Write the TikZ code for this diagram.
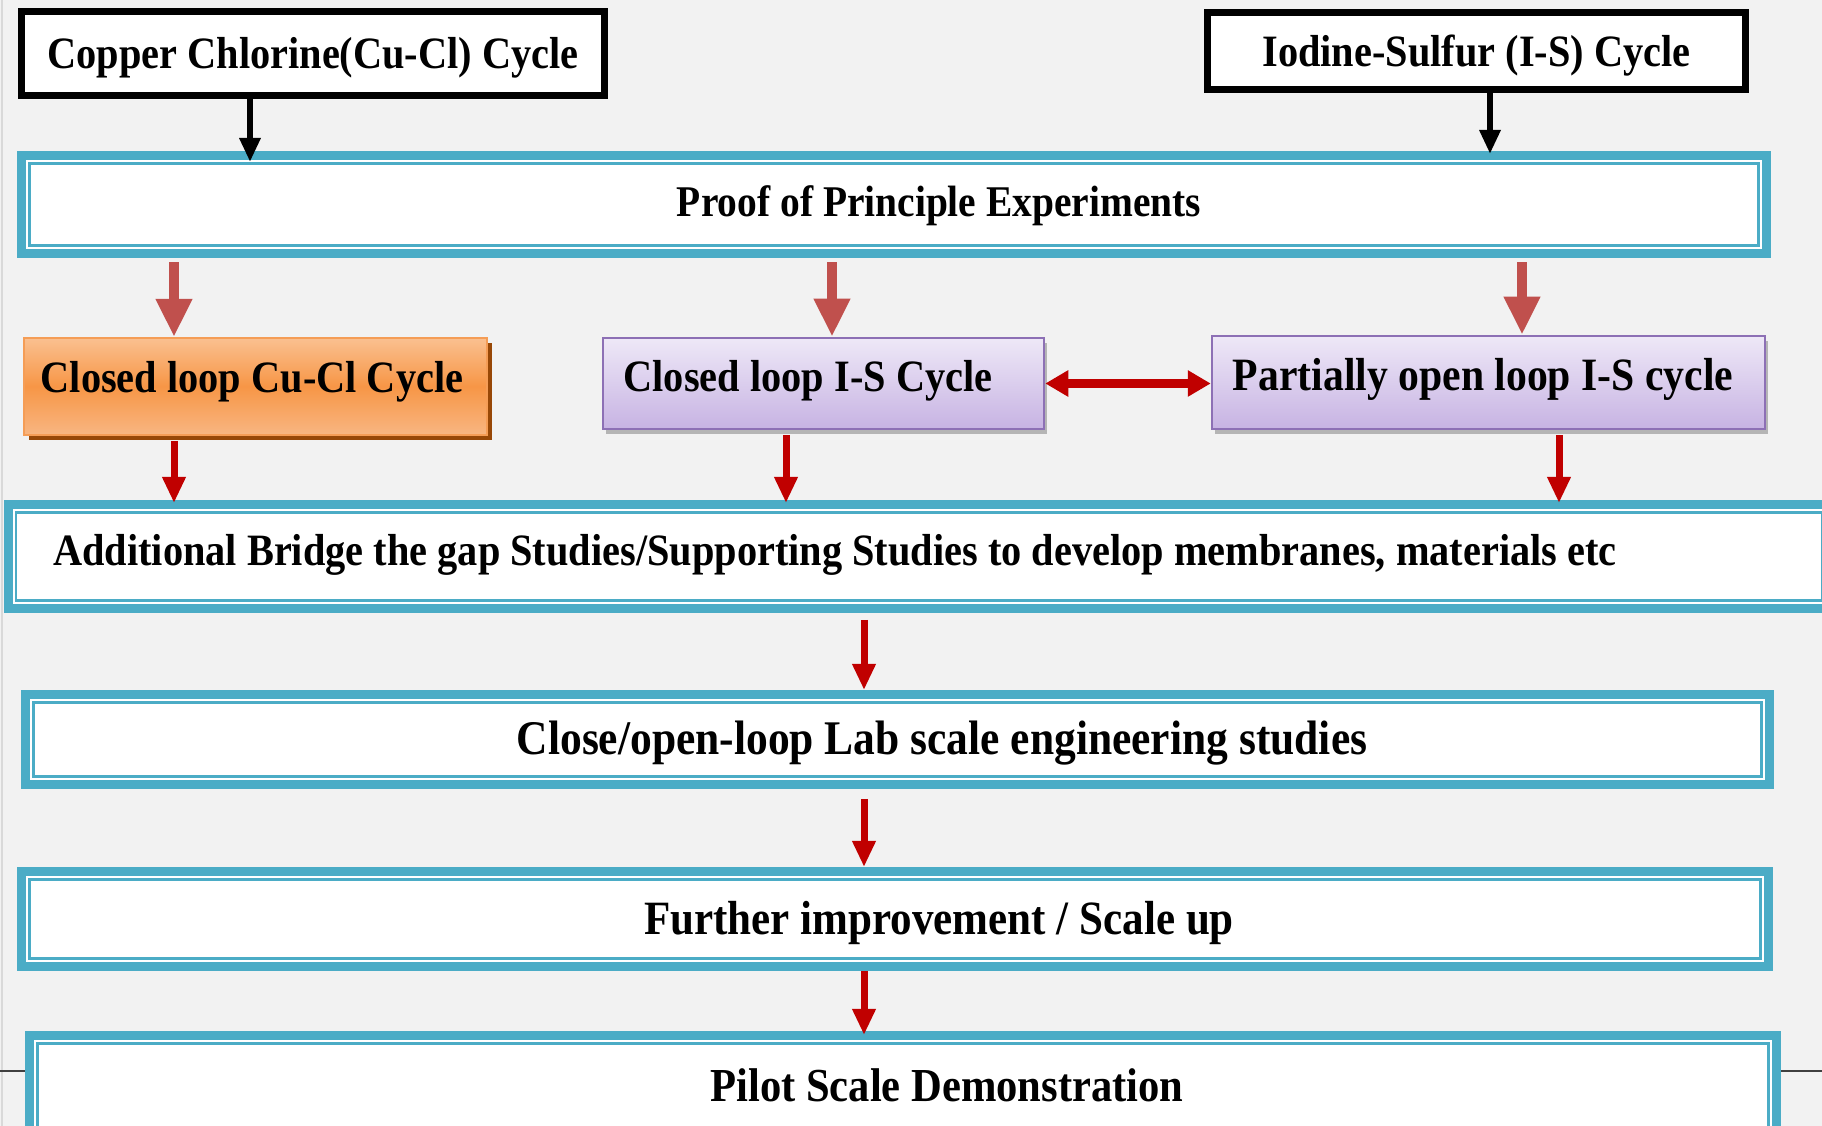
\documentclass[tikz,border=0pt]{standalone}
\usepackage{fontspec}
\setmainfont{Liberation Serif}[FakeStretch=0.9]
\usetikzlibrary{arrows.meta,shadows}
\definecolor{pagegray}{HTML}{F2F2F2}
\definecolor{boxcyan}{HTML}{4BACC6}
\definecolor{softred}{HTML}{C0504D}
\definecolor{deepred}{HTML}{C00000}
\definecolor{orangetop}{HTML}{FAC090}
\definecolor{orangemid}{HTML}{F79646}
\definecolor{orangebot}{HTML}{F8B682}
\definecolor{orangeline}{HTML}{F59D56}
\definecolor{orangeshade}{HTML}{984807}
\definecolor{lilactop}{HTML}{EEE8F7}
\definecolor{lilacbot}{HTML}{C7B3E3}
\definecolor{lilacline}{HTML}{8D70B5}
\tikzset{
  headbox/.style={rectangle,draw=black,line width=7bp,fill=white,font=\fontsize{45}{50}\selectfont\bfseries},
  stagebox/.style={rectangle,draw=boxcyan,line width=9bp,fill=white,
    path picture={\draw [boxcyan,line width=2.5bp] ([shift={(8bp,-8bp)}]path picture bounding box.north west) rectangle ([shift={(-8bp,8bp)}]path picture bounding box.south east);}},
  stagetext/.style={draw=none,font=\fontsize{44}{50}\selectfont\bfseries},
  cubox/.style={rectangle,draw=orangeline,line width=2bp,top color=orangetop,bottom color=orangebot,middle color=orangemid,
    drop shadow={shadow xshift=5bp,shadow yshift=-5bp,fill=orangeshade,opacity=1},font=\fontsize{45}{50}\selectfont\bfseries},
  isbox/.style={rectangle,draw=lilacline,line width=2.5bp,top color=lilactop,bottom color=lilacbot,
    drop shadow={shadow xshift=3bp,shadow yshift=-5bp,fill=black,opacity=0.25},font=\fontsize{46.5}{52}\selectfont\bfseries},
  blackarrow/.style={black,line width=6bp,-{Triangle[width=20bp,length=24bp]}},
  widearrow/.style={softred,line width=10bp,-{Triangle[width=34bp,length=38bp]}},
  thinarrow/.style={deepred,line width=7bp,-{Triangle[width=22bp,length=26bp]}},
  botharrow/.style={deepred,line width=9bp,{Triangle[width=25bp,length=23bp]}-{Triangle[width=25bp,length=23bp]}},
}
\begin{document}
\begin{tikzpicture}[line join=miter]
%%
\useasboundingbox [fill=pagegray] (0bp,0bp) rectangle (1822bp,1126bp);
\draw [black!15,line width=2bp] (2bp,0bp) -- (2bp,1126bp);
\draw [black!75,line width=1.5bp] (0bp,55bp) -- (1822bp,55bp);
%
\node (node_0) at (313.0bp,1072.5bp) [headbox,minimum width=583bp,minimum height=84bp] {};
  \node (node_0_text) at (313.0bp,1068.5bp) [draw=none,font=\fontsize{45}{50}\selectfont\bfseries] {Copper Chlorine(Cu-Cl) Cycle};
  \node (node_1) at (1476.5bp,1075.0bp) [headbox,minimum width=538bp,minimum height=77bp] {};
  \node (node_1_text) at (1476.5bp,1070.0bp) [draw=none,font=\fontsize{45}{50}\selectfont\bfseries] {Iodine-Sulfur (I-S) Cycle};
  \node (node_2) at (894.0bp,921.5bp) [stagebox,minimum width=1745bp,minimum height=98bp] {};
  \node (node_2_text) at (939.0bp,920.0bp) [stagetext] {Proof of Principle Experiments};
  \node (node_3) at (255.5bp,739.5bp) [cubox,minimum width=463bp,minimum height=97bp] {};
  \node (node_3_text) at (252.0bp,744.0bp) [draw=none,font=\fontsize{45}{50}\selectfont\bfseries] {Closed loop Cu-Cl Cycle};
  \node (node_4) at (823.5bp,742.5bp) [isbox,minimum width=441bp,minimum height=91bp] {};
  \node (node_4_text) at (808.0bp,745.0bp) [draw=none,font=\fontsize{45}{50}\selectfont\bfseries] {Closed loop I-S Cycle};
  \node (node_5) at (1488.5bp,743.5bp) [isbox,minimum width=553bp,minimum height=93bp] {};
  \node (node_5_text) at (1483.0bp,747.0bp) [draw=none,font=\fontsize{46.5}{52}\selectfont\bfseries] {Partially open loop I-S cycle};
  \node (node_6) at (919.0bp,569.5bp) [stagebox,minimum width=1822bp,minimum height=104bp] {};
  \node (node_6_text) at (53.0bp,571.0bp) [stagetext,font=\fontsize{45}{50}\selectfont\bfseries,anchor=west,inner sep=0pt] {Additional Bridge the gap Studies/Supporting Studies to develop membranes, materials etc};
  \node (node_7) at (897.5bp,386.5bp) [stagebox,minimum width=1744bp,minimum height=90bp] {};
  \node (node_7_text) at (942.0bp,383.0bp) [stagetext,font=\fontsize{48.5}{54}\selectfont\bfseries] {Close/open-loop Lab scale engineering studies};
  \node (node_8) at (895.0bp,207.0bp) [stagebox,minimum width=1747bp,minimum height=95bp] {};
  \node (node_8_text) at (939.0bp,203.0bp) [stagetext,font=\fontsize{48}{54}\selectfont\bfseries] {Further improvement / Scale up};
  \node (node_9) at (903.0bp,35.5bp) [stagebox,minimum width=1747bp,minimum height=110bp] {};
  \node (node_9_text) at (947.0bp,41.0bp) [stagetext,font=\fontsize{47.5}{54}\selectfont\bfseries] {Pilot Scale Demonstration};
%
  \draw [blackarrow,shorten >=-11bp] (node_0.south -| 250bp,0bp) -- (node_2.north -| 250bp,0bp);
  \draw [blackarrow,shorten >=-3bp] (node_1.south -| 1490bp,0bp) -- (node_2.north -| 1490bp,0bp);
  \draw [widearrow,shorten <=4.5bp] (node_2.south -| 174bp,0bp) -- (node_3.north -| 174bp,0bp);
  \draw [widearrow,shorten <=4.5bp] (node_2.south -| 832bp,0bp) -- (node_4.north -| 832bp,0bp);
  \draw [widearrow,shorten <=4.5bp] (node_2.south -| 1522bp,0bp) -- (node_5.north -| 1522bp,0bp);
  \draw [botharrow] (node_4.east) -- (node_4.east -| node_5.west);
  \draw [thinarrow,shorten <=5bp,shorten >=-3bp] (node_3.south -| 174bp,0bp) -- (node_6.north -| 174bp,0bp);
  \draw [thinarrow,shorten <=5bp,shorten >=-3bp] (node_4.south -| 786bp,0bp) -- (node_6.north -| 786bp,0bp);
  \draw [thinarrow,shorten <=5bp,shorten >=-3bp] (node_5.south -| 1559bp,0bp) -- (node_6.north -| 1559bp,0bp);
  \draw [thinarrow,shorten <=7bp] (node_6.south -| 864bp,0bp) -- (node_7.north -| 864bp,0bp);
  \draw [thinarrow,shorten <=10bp] (node_7.south -| 864bp,0bp) -- (node_8.north -| 864bp,0bp);
  \draw [thinarrow,shorten >=-4bp] (node_8.south -| 864bp,0bp) -- (node_9.north -| 864bp,0bp);
%
\end{tikzpicture}
\end{document}
